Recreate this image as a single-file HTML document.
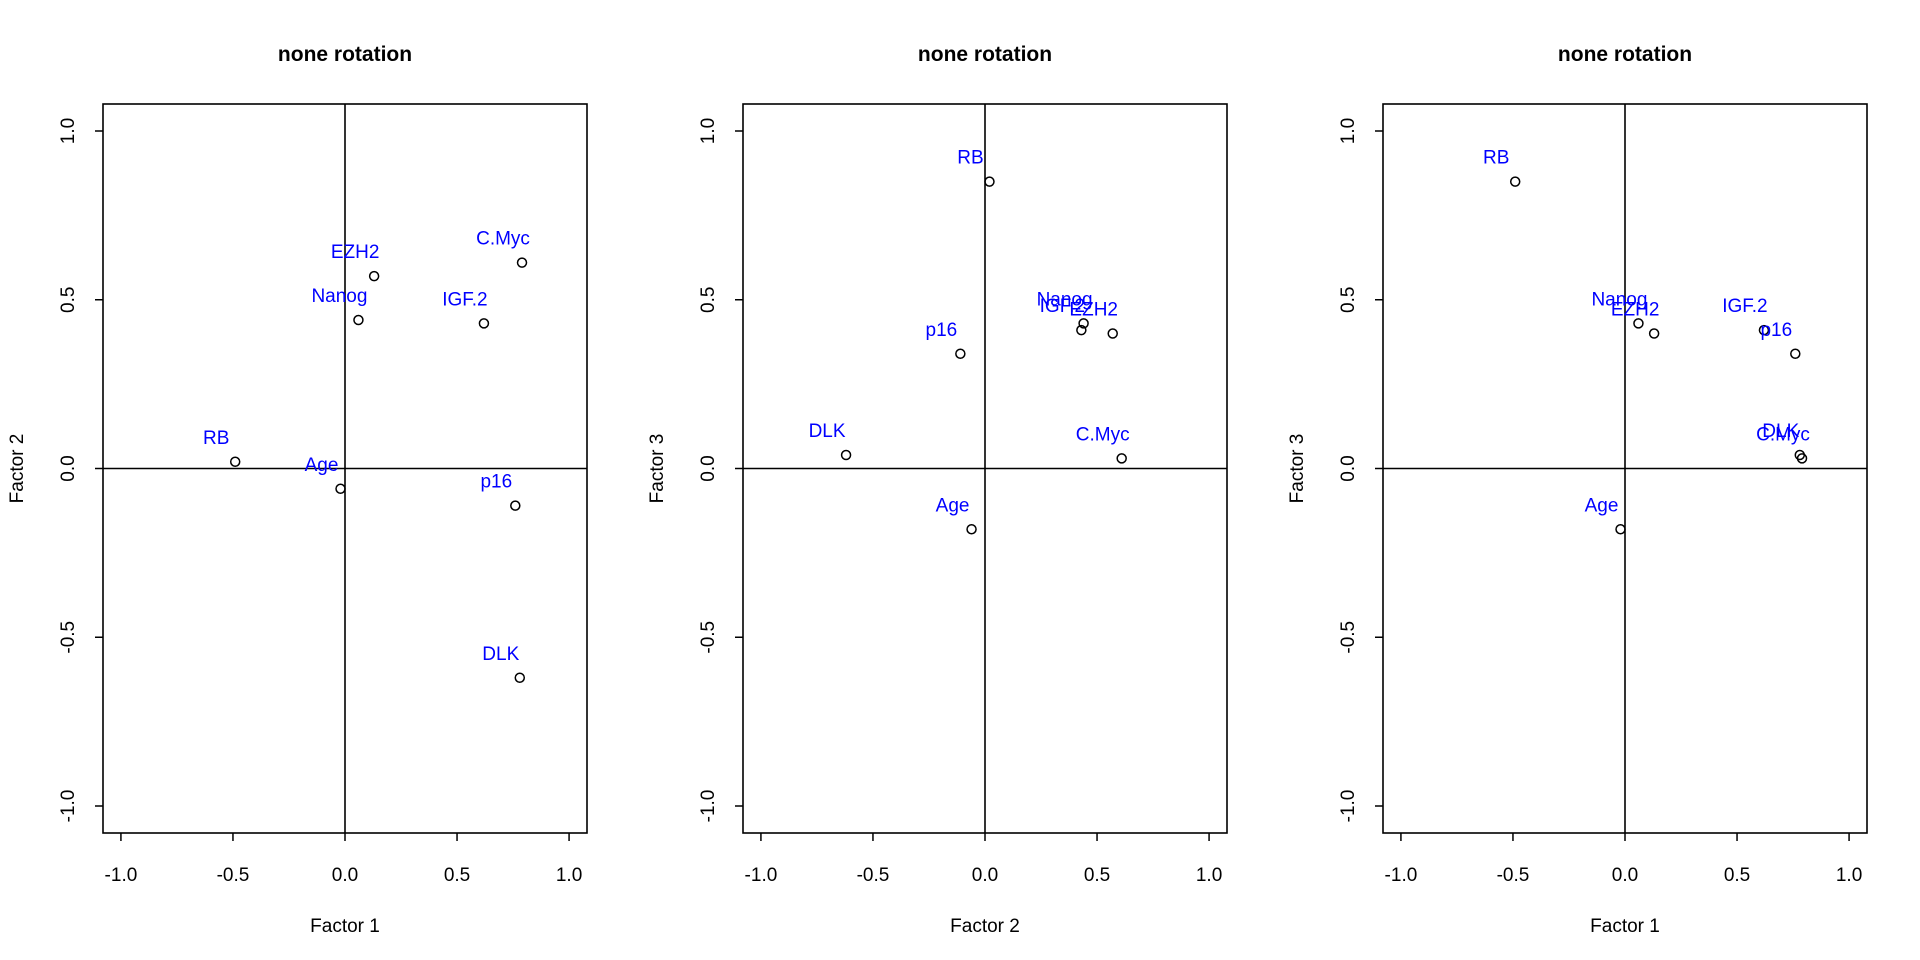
<!DOCTYPE html>
<html><head><meta charset="utf-8"><style>
html,body{margin:0;padding:0;background:#fff;}
svg{display:block;font-family:"Liberation Sans",Arial,sans-serif;}
</style></head><body>
<svg id="chart" width="1920" height="960" viewBox="0 0 1920 960" xmlns="http://www.w3.org/2000/svg"></svg>
<script>
const varNames = ["RB","Age","EZH2","Nanog","C.Myc","IGF.2","p16","DLK"];
const factor1 = [-0.49,-0.02,0.13,0.06,0.79,0.62,0.76,0.78];
const factor2 = [0.02,-0.06,0.57,0.44,0.61,0.43,-0.11,-0.62];
const factor3 = [0.85,-0.18,0.40,0.43,0.03,0.41,0.34,0.04];
const tickValues = [-1.0,-0.5,0.0,0.5,1.0];
const tickLabels = ["-1.0","-0.5","0.0","0.5","1.0"];
const panelTitles = ["none rotation","none rotation","none rotation"];
const panelXLabels = ["Factor 1","Factor 2","Factor 1"];
const panelYLabels = ["Factor 2","Factor 3","Factor 3"];

const NS="http://www.w3.org/2000/svg";
const svg=document.getElementById('chart');
function mk(tag,attrs,parent){const e=document.createElementNS(NS,tag);for(const k in attrs)e.setAttribute(k,attrs[k]);parent.appendChild(e);return e;}

const panelX=[factor1,factor2,factor1];
const panelY=[factor2,factor3,factor3];
for(let p=0;p<3;p++){
  const off=p*640;
  const L=off+103,R=off+587,T=104,B=833;
  const xs=v=>L+(v+1.08)/2.16*(R-L);
  const ys=v=>B-(v+1.08)/2.16*(B-T);
  const g=mk('g',{},svg);
  
  
  const t=mk('text',{x:(L+R)/2,y:61,'text-anchor':'middle','font-size':21,'font-weight':'bold'},g);
  t.textContent=panelTitles[p];
  
  
  const xl=mk('text',{x:(L+R)/2,y:932,'text-anchor':'middle','font-size':19},g);
  xl.textContent=panelXLabels[p];
  
  
  const yl=mk('text',{x:0,y:0,'text-anchor':'middle','font-size':19,transform:`translate(${off+23},${(T+B)/2}) rotate(-90)`},g);
  yl.textContent=panelYLabels[p];
  
  
  tickValues.forEach((v,i)=>{
    mk('line',{x1:xs(v),x2:xs(v),y1:B,y2:B+8,stroke:'#000','stroke-width':1.5},g);
    const tx=mk('text',{x:xs(v),y:881,'text-anchor':'middle','font-size':19},g);
    tx.textContent=tickLabels[i];
    
    
    mk('line',{x1:L,x2:L-8,y1:ys(v),y2:ys(v),stroke:'#000','stroke-width':1.5},g);
    const ty=mk('text',{x:0,y:0,'text-anchor':'middle','font-size':19,transform:`translate(${off+74},${ys(v)}) rotate(-90)`},g);
    ty.textContent=tickLabels[i];
    
    
  });
  const box=mk('rect',{x:L,y:T,width:R-L,height:B-T,fill:'none',stroke:'#000','stroke-width':1.6},g);
  
  
  const v0=mk('line',{x1:xs(0),x2:xs(0),y1:T,y2:B,stroke:'#000','stroke-width':1.6},g);
  
  
  const h0=mk('line',{x1:L,x2:R,y1:ys(0),y2:ys(0),stroke:'#000','stroke-width':1.5},g);
  
  
  varNames.forEach((n,i)=>{
    const cx=xs(panelX[p][i]),cy=ys(panelY[p][i]);
    const c=mk('circle',{cx:cx,cy:cy,r:4.5,fill:'none',stroke:'#000','stroke-width':1.5},g);
    
    
    const lb=mk('text',{x:cx-19,y:cy-18,'text-anchor':'middle','font-size':19,fill:'#0000ff'},g);
    lb.textContent=n;
    
    
  });
}
</script>
</body></html>
